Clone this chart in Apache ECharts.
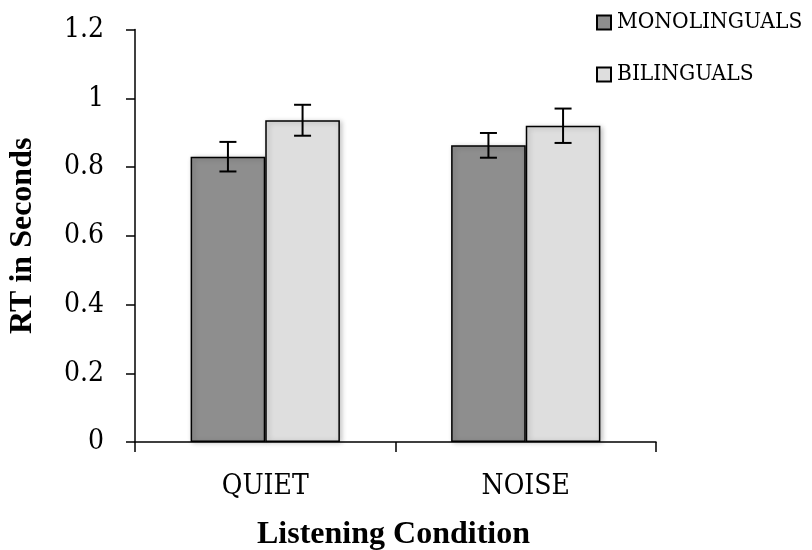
<!DOCTYPE html>
<html>
<head>
<meta charset="utf-8">
<script src="https://cdn.jsdelivr.net/npm/echarts@6/dist/echarts.min.js"></script>
<style>
  html, body { margin: 0; padding: 0; background: #fff; }
  #chart { width: 812px; height: 550px; }
</style>
</head>
<body>
<div id="chart"></div>
<script>
// Reaction times by listening condition and language group
const categories = ['QUIET', 'NOISE'];
const groupNames = ['MONOLINGUALS', 'BILINGUALS'];
const monoMeans = [0.83, 0.863];
const biliMeans = [0.936, 0.92];
const monoErr = [0.043, 0.036];
const biliErr = [0.045, 0.05];
const yTicks = [0, 0.2, 0.4, 0.6, 0.8, 1, 1.2];

const LABEL_FONT = '"DejaVu Serif Condensed", "Liberation Serif", serif';
const TITLE_FONT = '"Liberation Serif", "Times New Roman", serif';
const CAT_GAP = 0.427;

function errorSeries(means, errs, side) {
  return {
    type: 'custom',
    silent: true,
    z: 10,
    data: means.map((m, i) => [i, m - errs[i], m + errs[i]]),
    renderItem: function (params, api) {
      const band = api.size([1, 0])[0];
      const barW = band * (1 - CAT_GAP) / 2;
      const lo = api.coord([api.value(0), api.value(1)]);
      const hi = api.coord([api.value(0), api.value(2)]);
      const x = lo[0] + side * barW / 2;
      const cap = 8.5;
      const style = { stroke: '#000', lineWidth: 2, fill: null };
      return {
        type: 'group',
        children: [
          { type: 'line', shape: { x1: x, y1: lo[1], x2: x, y2: hi[1] }, style },
          { type: 'line', shape: { x1: x - cap, y1: lo[1], x2: x + cap, y2: lo[1] }, style },
          { type: 'line', shape: { x1: x - cap, y1: hi[1], x2: x + cap, y2: hi[1] }, style }
        ]
      };
    }
  };
}

const chart = echarts.init(document.getElementById('chart'));
chart.setOption({
  backgroundColor: '#fff',
  animation: false,
  grid: {
    left: 135, right: 156, top: 29.5, bottom: 108,
    containLabel: false,
    outerBoundsMode: 'none'
  },
  legend: {
    data: groupNames,
    orient: 'vertical',
    left: 596,
    top: 11,
    padding: 0,
    itemWidth: 14,
    itemHeight: 14,
    itemGap: 29,
    icon: 'rect',
    textStyle: { fontFamily: LABEL_FONT, fontSize: 22.5, color: '#000', padding: [0, 0, 0, 1] }
  },
  xAxis: {
    type: 'category',
    data: categories,
    name: 'Listening Condition',
    nameLocation: 'middle',
    nameGap: 77,
    nameTextStyle: { fontFamily: TITLE_FONT, fontSize: 32, fontWeight: 'bold', color: '#000', padding: [0, 4, 0, 0] },
    axisLine: { lineStyle: { color: '#000', width: 1.5 } },
    axisTick: { show: true, length: 10, lineStyle: { color: '#000', width: 1.5 } },
    axisLabel: { fontFamily: LABEL_FONT, fontSize: 28, color: '#000', margin: 31 }
  },
  yAxis: {
    type: 'value',
    min: 0,
    max: 1.2,
    interval: 0.2,
    name: 'RT in Seconds',
    nameLocation: 'middle',
    nameGap: 96,
    nameTextStyle: { fontFamily: TITLE_FONT, fontSize: 32, fontWeight: 'bold', color: '#000' },
    splitLine: { show: false },
    axisLine: { show: true, lineStyle: { color: '#000', width: 1.5 } },
    axisTick: { show: true, length: 9, lineStyle: { color: '#000', width: 1.5 } },
    axisLabel: {
      fontFamily: LABEL_FONT, fontSize: 28, color: '#000', margin: 31,
      formatter: v => String(yTicks.find(t => Math.abs(t - v) < 1e-9) ?? v)
    }
  },
  series: [
    {
      name: groupNames[0],
      type: 'bar',
      data: monoMeans,
      barGap: '0%',
      barCategoryGap: (CAT_GAP * 100) + '%',
      itemStyle: {
        color: '#8e8e8e', borderColor: '#000', borderWidth: 1.5,
        shadowColor: 'rgba(0,0,0,0.25)', shadowBlur: 5, shadowOffsetX: 2, shadowOffsetY: 1
      }
    },
    {
      name: groupNames[1],
      type: 'bar',
      data: biliMeans,
      barGap: '0%',
      barCategoryGap: (CAT_GAP * 100) + '%',
      itemStyle: {
        color: '#dedede', borderColor: '#000', borderWidth: 1.5,
        shadowColor: 'rgba(0,0,0,0.25)', shadowBlur: 5, shadowOffsetX: 2, shadowOffsetY: 1
      }
    },
    errorSeries(monoMeans, monoErr, -1),
    errorSeries(biliMeans, biliErr, 1)
  ]
});
</script>
</body>
</html>
